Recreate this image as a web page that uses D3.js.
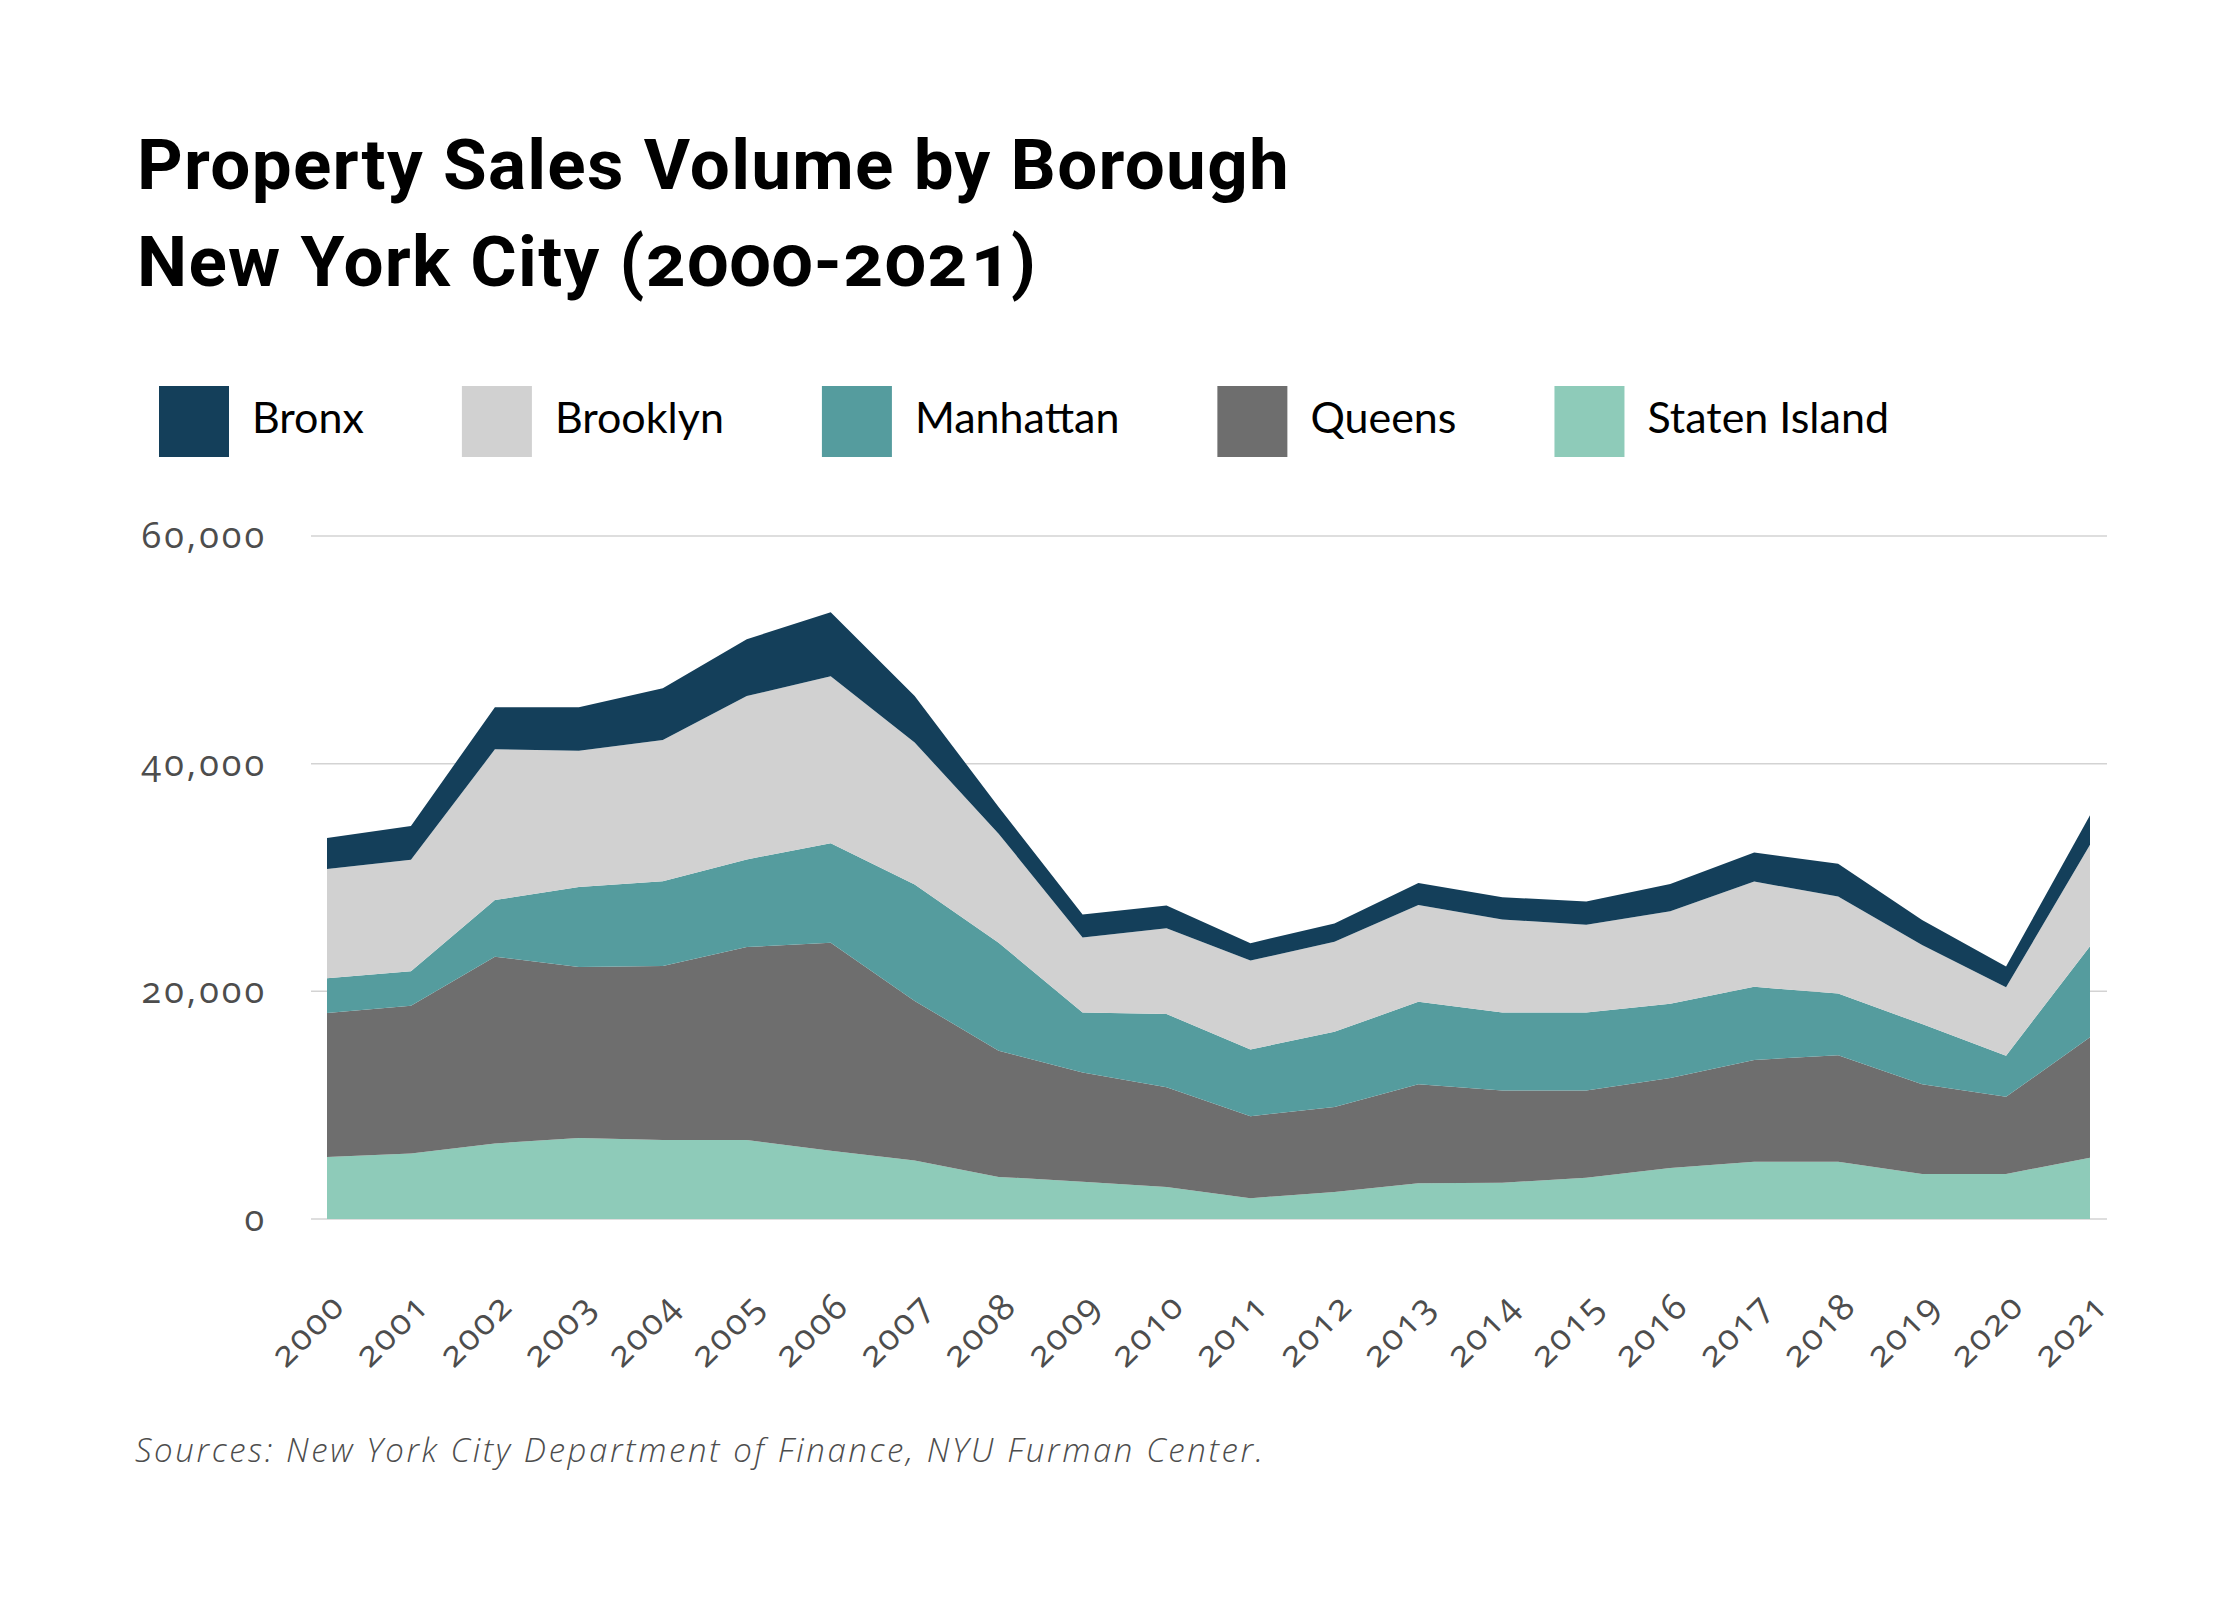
<!DOCTYPE html>
<html lang="en">
	<head>
		<meta charset="utf-8">
		<title>Property Sales Volume by Borough</title>
		<style type="text/css">
			body { margin: 0; background: #fff; }
		</style>
	</head>
	<body>
		<script src="https://d3js.org/d3.v7.min.js"></script>
		<script>
			//Width and height
			var w = 2240;
			var h = 1600;

			var years = ["2000", "2001", "2002", "2003", "2004", "2005", "2006", "2007", "2008", "2009", "2010",
						 "2011", "2012", "2013", "2014", "2015", "2016", "2017", "2018", "2019", "2020", "2021"];

			var bronx = [2730, 2980, 3700, 3830, 4560, 4990, 5620, 4080, 2350, 2000, 2000,
						 1530, 1610, 1920, 1960, 2040, 2380, 2550, 2890, 2210, 1830, 2600];
			var brooklyn = [9580, 9790, 13240, 11960, 12390, 14350, 14690, 12480, 9580, 6600, 7540,
							7800, 7920, 8510, 8170, 7710, 8130, 9240, 8520, 6940, 6000, 8900];
			var manhattan = [3060, 3020, 4980, 7030, 7450, 7700, 8730, 10220, 9490, 5280, 6430,
							 5870, 6600, 7240, 6860, 6860, 6520, 6430, 5410, 5280, 3620, 8000];
			var queens = [12650, 12990, 16400, 15030, 15290, 16950, 18270, 14010, 11080, 9580, 8770,
						  7200, 7460, 8690, 8090, 7660, 7920, 8950, 9370, 7880, 6770, 10600];
			var statenIsland = [5450, 5750, 6640, 7110, 6940, 6940, 6000, 5150, 3700, 3280, 2810,
								1830, 2380, 3150, 3190, 3620, 4470, 5020, 5020, 3960, 3960, 5370];

			var boroughs = ["Bronx", "Brooklyn", "Manhattan", "Queens", "Staten Island"];
			var colors = ["#143f5a", "#d1d1d1", "#559c9e", "#6e6e6e", "#8ecbb9"];
			var yTicks = [0, 20000, 40000, 60000];

			var seriesByName = {
				"Bronx": bronx,
				"Brooklyn": brooklyn,
				"Manhattan": manhattan,
				"Queens": queens,
				"Staten Island": statenIsland
			};

			//Rows for d3.stack
			var table = years.map(function(y, i) {
				var row = { year: y };
				boroughs.forEach(function(b) { row[b] = seriesByName[b][i]; });
				return row;
			});

			//Staten Island at the bottom, Bronx on top
			var stack = d3.stack().keys(boroughs.slice().reverse());
			var layers = stack(table);

			var color = d3.scaleOrdinal().domain(boroughs).range(colors);

			var xScale = d3.scalePoint()
							.domain(years)
							.range([327, 2090]);
			var yScale = d3.scaleLinear()
							.domain([0, 60000])
							.range([1219, 536]);

			//Create SVG element
			var svg = d3.select("body")
						.append("svg")
						.attr("width", w)
						.attr("height", h);

			//Title
			svg.selectAll("text.title")
			   .data(["Property Sales Volume by Borough", "New York City (2000-2021)"])
			   .enter()
			   .append("text")
			   .attr("class", "title")
			   .attr("x", 137)
			   .attr("y", function(d, i) { return 189 + i * 97; })
			   .style("font-family", "Roboto, sans-serif")
			   .style("font-size", "71px")
			   .style("font-weight", "bold")
			   .style("letter-spacing", "1.3px")
			   .style("font-variant-numeric", "oldstyle-nums")
			   .attr("fill", "#000")
			   .text(function(d) { return d; });

			//Legend
			var lx = 159;
			boroughs.forEach(function(b) {
				svg.append("rect")
				   .attr("x", lx)
				   .attr("y", 386)
				   .attr("width", 70)
				   .attr("height", 71)
				   .attr("fill", color(b));
				var t = svg.append("text")
				   .attr("x", lx + 93)
				   .attr("y", 433)
				   .style("font-family", "Lato, sans-serif")
				   .style("font-size", "43px")
				   .attr("fill", "#000")
				   .text(b);
				lx += 93 + t.node().getComputedTextLength() + 98;
			});

			//Gridlines
			svg.selectAll("line.grid")
			   .data(yTicks)
			   .enter()
			   .append("line")
			   .attr("class", "grid")
			   .attr("x1", 311)
			   .attr("x2", 2107)
			   .attr("y1", function(d) { return yScale(d); })
			   .attr("y2", function(d) { return yScale(d); })
			   .attr("stroke", "#d3d3d3")
			   .attr("stroke-width", 1.5);

			//Areas
			var area = d3.area()
						 .x(function(d) { return xScale(d.data.year); })
						 .y0(function(d) { return yScale(d[0]); })
						 .y1(function(d) { return yScale(d[1]); });

			svg.selectAll("path.layer")
			   .data(layers)
			   .enter()
			   .append("path")
			   .attr("class", "layer")
			   .attr("d", area)
			   .attr("fill", function(d) { return color(d.key); });

			//Y axis labels
			svg.selectAll("text.ytick")
			   .data(yTicks)
			   .enter()
			   .append("text")
			   .attr("class", "ytick")
			   .attr("x", 267)
			   .attr("y", function(d) { return yScale(d) + 12; })
			   .attr("text-anchor", "end")
			   .style("font-family", "'Open Sans', sans-serif")
			   .style("font-size", "36px")
			   .style("letter-spacing", "3px")
			   .style("font-variant-numeric", "oldstyle-nums")
			   .attr("fill", "#4d4d4d")
			   .text(function(d) { return d3.format(",")(d); });

			//X axis labels
			svg.selectAll("text.xtick")
			   .data(years)
			   .enter()
			   .append("text")
			   .attr("class", "xtick")
			   .attr("text-anchor", "end")
			   .attr("transform", function(d) {
			   		return "translate(" + (xScale(d) + 20) + ",1308) rotate(-45)";
			   })
			   .style("font-family", "'Open Sans', sans-serif")
			   .style("font-size", "36px")
			   .style("letter-spacing", "2px")
			   .style("font-variant-numeric", "oldstyle-nums")
			   .attr("fill", "#4d4d4d")
			   .text(function(d) { return d; });

			//Source note
			svg.append("text")
			   .attr("x", 135)
			   .attr("y", 1462)
			   .style("font-family", "'Open Sans', sans-serif")
			   .style("font-size", "33px")
			   .style("font-style", "italic")
			   .style("font-weight", 300)
			   .style("letter-spacing", "2.6px")
			   .attr("fill", "#4d4d4d")
			   .text("Sources: New York City Department of Finance, NYU Furman Center.");
		</script>
	</body>
</html>
